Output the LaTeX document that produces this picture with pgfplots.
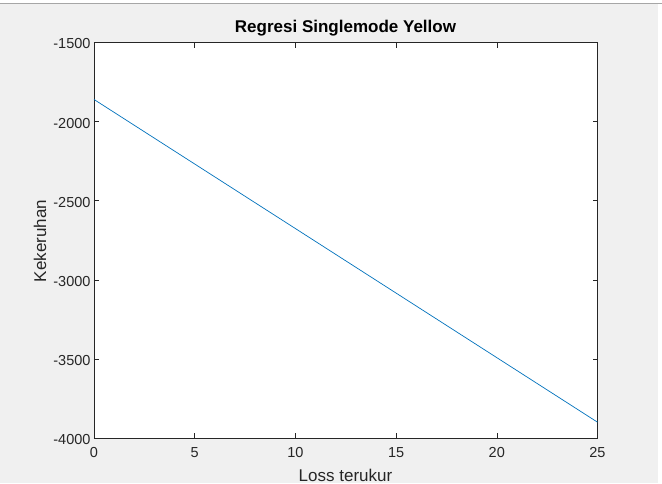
\documentclass[border=0pt]{standalone}
\usepackage{pgfplots}
\pgfplotsset{compat=1.18}
\usepackage{fontspec}
\setmainfont{Liberation Sans}
\definecolor{bgc}{HTML}{F0F0F0}
\definecolor{axc}{HTML}{262626}
\definecolor{linec}{HTML}{0072BD}
\begin{document}
\begin{tikzpicture}
\fill[bgc] (0pt,0pt) rectangle (662pt,483pt);
\fill[white] (0pt,480pt) rectangle (662pt,483pt);
\fill[white] (658pt,0pt) rectangle (662pt,480pt);
\draw[gray!70, line width=1pt] (0pt,479.5pt) -- (662pt,479.5pt);
\begin{scope}
\clip (0pt,0pt) rectangle (662pt,483pt);
\begin{axis}[
  at={(94pt,45pt)}, anchor=south west,
  width=503.5pt, height=395.5pt, scale only axis,
  xmin=0, xmax=25, ymin=-4000, ymax=-1500,
  xtick={0,5,...,25}, ytick={-4000,-3500,...,-1500},
  tick align=inside, tick pos=both,
  major tick length=5pt,
  axis line style={axc, line width=0.6pt},
  every tick/.style={axc, line width=0.6pt},
  tick label style={font=\fontsize{14.5}{16}\selectfont, text=axc},
  /pgf/number format/assume math mode=true,
  /pgf/number format/1000 sep={},
  xticklabel style={yshift=-6pt},
  yticklabel style={xshift=0pt, yshift=-1.5pt},
  axis background/.style={fill=white},
]
\addplot[linec, line width=0.7pt, no marks] coordinates {(0,-1860) (25,-3900)};
\end{axis}
\node[anchor=base, font=\fontsize{17}{19}\selectfont\bfseries, text=black] at (345.5pt,450pt) {Regresi Singlemode Yellow};
\node[anchor=south, inner sep=0pt, font=\fontsize{17}{19}\selectfont, text=axc] at (345.5pt,1.5pt) {Loss terukur};
\node[rotate=90, font=\fontsize{17}{19}\selectfont, text=axc] at (40pt,242pt) {Kekeruhan};
\end{scope}
\pgfresetboundingbox
\path[use as bounding box] (0pt,0pt) rectangle (662pt,483pt);
\end{tikzpicture}
\end{document}
